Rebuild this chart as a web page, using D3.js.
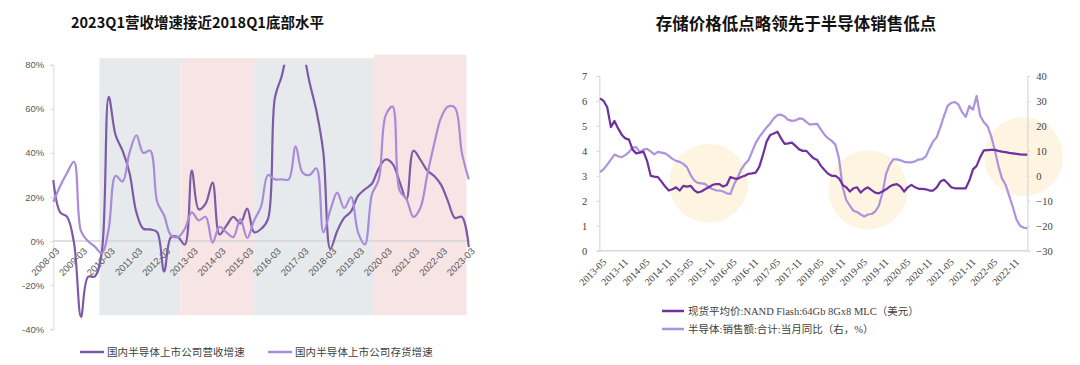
<!DOCTYPE html>
<html><head><meta charset="utf-8">
<script src="https://cdn.jsdelivr.net/npm/d3@7"></script>
<style>body{margin:0;background:#fff;} svg{display:block;}</style>
</head><body>
<svg id="chart" width="1080" height="365"></svg>
<script>
// ================= DATA: left chart (quarterly, %) =================
const leftQuarters = [
 "2008-03","2008-06","2008-09","2008-12","2009-03","2009-06","2009-09","2009-12",
 "2010-03","2010-06","2010-09","2010-12","2011-03","2011-06","2011-09","2011-12",
 "2012-03","2012-06","2012-09","2012-12","2013-03","2013-06","2013-09","2013-12",
 "2014-03","2014-06","2014-09","2014-12","2015-03","2015-06","2015-09","2015-12",
 "2016-03","2016-06","2016-09","2016-12","2017-03","2017-06","2017-09","2017-12",
 "2018-03","2018-06","2018-09","2018-12","2019-03","2019-06","2019-09","2019-12",
 "2020-03","2020-06","2020-09","2020-12","2021-03","2021-06","2021-09","2021-12",
 "2022-03","2022-06","2022-09","2022-12","2023-03"];
const revenueGrowth = [27.6,13,11,-1,-34.4,-16.3,-16,-5,65.4,48,
 41,31,13,5.6,5.3,4,-13.8,1.8,1.8,-1.6,
 32,14.4,17,26.5,3,7,11,8,14.7,4,
 5.5,10,65,75,90,100,88,72,59,40,
 -3.5,4.6,10.5,13.5,20.5,23.5,26,33,37,35,
 27,19,41,37,32,29.5,25.5,18,10.5,11,-2.7];
const inventoryGrowth = [17.8,25,31,36,4.5,0,-2.5,-5.5,5.5,29.6,
 27,40,48,40,41,17.8,11.6,2.6,1.8,5.6,
 13,9.4,11,-0.7,6.4,4,1.8,10,1.4,9.4,
 15.6,30,28,28,28,43,31,30,33,4,
 14,22,15,20,4,-1.5,21,28,57,61,
 23,19,11,15,30,44,56,61,60.5,40,28];
const leftTickLabels = ["2008-03","2009-03","2010-03","2011-03","2012-03","2013-03","2014-03",
 "2015-03","2016-03","2017-03","2018-03","2019-03","2020-03","2021-03","2022-03","2023-03"];
const leftYTicks = [-40,-20,0,20,40,60,80];
const bandStarts = ["2009-11","2012-10","2015-06","2019-10"];
const bandEnds   = ["2012-10","2015-06","2019-10","2023-02"];
const bandKinds  = ["down","up","down","up"];
const leftSeriesNames = ["国内半导体上市公司营收增速","国内半导体上市公司存货增速"];

// ================= DATA: right chart (monthly) =================
const rightStart = "2013-05", rightCount = 119;
const nandPrice = [6.1,6.0,5.75,4.95,5.2,4.9,4.65,4.5,4.45,4.05,
 3.9,3.93,3.97,3.6,3.0,2.97,2.95,2.77,2.57,2.41,
 2.46,2.54,2.41,2.6,2.57,2.6,2.43,2.33,2.37,2.46,
 2.54,2.63,2.67,2.67,2.57,2.63,2.95,2.9,2.88,2.95,
 3.0,3.08,3.1,3.13,3.37,3.84,4.37,4.64,4.7,4.77,
 4.5,4.28,4.3,4.33,4.2,4.06,4.0,4.0,3.84,3.7,
 3.63,3.4,3.23,3.08,3.0,3.0,2.9,2.64,2.54,2.37,
 2.5,2.54,2.33,2.46,2.54,2.43,2.33,2.3,2.37,2.46,
 2.57,2.64,2.67,2.57,2.37,2.54,2.64,2.54,2.48,2.48,
 2.46,2.41,2.41,2.54,2.77,2.84,2.7,2.54,2.5,2.5,
 2.5,2.5,2.81,3.26,3.4,3.75,4.02,4.03,4.04,4.04,
 4.0,3.97,3.95,3.92,3.9,3.88,3.86,3.85,3.85];
const semiSalesYoY = [1.5,2.7,4.5,6.5,8.5,7.8,7.5,8.3,9.5,11.3,
 11.5,9.5,10.5,10.8,9.8,8.6,9.6,9.3,9.0,8.0,
 6.8,6.0,5.6,4.8,3.5,0.4,-1.8,-2.8,-3,-3.2,
 -4.5,-5.3,-5.8,-5.9,-6.3,-7.0,-7.3,-3.5,-0.7,2.6,
 4.7,6.2,9.7,13.2,15.6,17.5,19.4,21.0,23.0,24.3,
 24.5,23.8,22.4,22.0,22.2,23.0,22.8,21.5,20.5,20.7,
 20.8,18.5,16.5,15,14,12.5,7,-4.5,-9.7,-12,
 -14,-14.5,-15.5,-16.3,-15.5,-15.3,-14.3,-12,-7,0.8,
 4.5,6.6,6.6,6.2,5.6,5.4,5.4,5.8,6.5,6.7,
 7.8,11,13.8,15.5,19.5,24,28,29.2,29.6,28.5,
 25.5,23.6,28,26.5,32,24,21.5,20,16,10.5,
 4,-1,-3.5,-8,-12.5,-17.5,-20,-20.8,-21];
const rightTickLabels = ["2013-05","2013-11","2014-05","2014-11","2015-05","2015-11","2016-05",
 "2016-11","2017-05","2017-11","2018-05","2018-11","2019-05","2019-11","2020-05","2020-11",
 "2021-05","2021-11","2022-05","2022-11"];
const rightLeftTicks = [0,1,2,3,4,5,6,7];
const rightRightTicks = [-30,-20,-10,0,10,20,30,40];
const lowPointMonths = ["2015-11","2019-07","2023-02"];
const lowPointLevels = [2.7,2.43,3.77];
const rightSeriesNames = ["现货平均价:NAND Flash:64Gb 8Gx8 MLC（美元）","半导体:销售额:合计:当月同比（右，%）"];

// ================= helpers =================
const tm = s => { const [y,m] = s.split("-").map(Number); return y*12 + m; };
const fmtM = v => { const y = Math.floor((v-1)/12), m = v - y*12; return y + "-" + String(m).padStart(2,"0"); };
const rightMonths = d3.range(rightCount).map(i => fmtM(tm(rightStart) + i));

const svg = d3.select("#chart");
const sans = "'Liberation Sans', Arial, 'Noto Sans CJK SC', sans-serif";
const serif = "'Liberation Serif', 'Times New Roman', 'Noto Sans CJK SC', serif";
const cjk = "'Noto Sans CJK SC', sans-serif";
const axisCol = "#d9d9d9", labCol = "#595959";

// ================= LEFT CHART =================
const L = svg.append("g");
const xL = d3.scaleLinear().domain([tm(leftQuarters[0]), tm(leftQuarters[leftQuarters.length-1])]).range([53.3, 468.8]);
const yL = d3.scaleLinear().domain([-40, 80]).range([329.3, 64.7]);

L.append("text").attr("x", 71).attr("y", 28).attr("font-family", cjk).attr("font-weight", 700)
 .attr("font-size", 14.5).attr("fill", "#111").text("2023Q1营收增速接近2018Q1底部水平");

// bands
bandStarts.forEach((s, i) => {
  const top = i === bandStarts.length-1 ? 84.5 : 83;
  L.append("rect").attr("x", xL(tm(s))).attr("width", xL(tm(bandEnds[i])) - xL(tm(s)))
   .attr("y", yL(top)).attr("height", yL(-33.6) - yL(top))
   .attr("fill", bandKinds[i] === "down" ? "#e7eaed" : "#f7e4e4");
});

// y axis
const ayL = L.append("g").attr("transform", `translate(${xL.range()[0]},0)`)
  .call(d3.axisLeft(yL).tickValues(leftYTicks).tickFormat(d => d + "%").tickSize(3).tickPadding(6));
ayL.select(".domain").attr("stroke", axisCol);
ayL.selectAll(".tick line").attr("stroke", axisCol);
ayL.selectAll(".tick text").attr("font-family", sans).attr("font-size", 9.5).attr("fill", labCol);

// zero line
L.append("line").attr("x1", xL.range()[0]).attr("x2", xL.range()[1] + 1).attr("y1", yL(0)).attr("y2", yL(0))
 .attr("stroke", "#d4d4d4").attr("stroke-width", 1.5);

// x labels
L.selectAll("text.xl").data(leftTickLabels).join("text").attr("class", "xl")
 .attr("transform", d => `translate(${xL(tm(d)) + 2},${yL(0) + 6}) rotate(-45)`)
 .attr("text-anchor", "end").attr("dy", "0.7em").attr("font-family", sans).attr("font-size", 9.5)
 .attr("fill", labCol).text(d => d);

// clip
svg.append("clipPath").attr("id", "clipL").append("rect")
 .attr("x", 40).attr("y", yL(80)).attr("width", 440).attr("height", yL(-40) - yL(80));

const lineL = d3.line().x(d => xL(tm(d[0]))).y(d => yL(d[1])).curve(d3.curveCatmullRom.alpha(0.5));
const leftColors = ["#7d5ba6", "#a98bd9"];
[revenueGrowth, inventoryGrowth].forEach((arr, k) => {
  L.append("path").attr("clip-path", "url(#clipL)")
   .attr("d", lineL(leftQuarters.map((q, i) => [q, arr[i]])))
   .attr("fill", "none").attr("stroke", leftColors[k]).attr("stroke-width", 2.2);
});

// legend left
const legLX = [80, 268];
leftSeriesNames.forEach((n, k) => {
  L.append("line").attr("x1", legLX[k]).attr("x2", legLX[k] + 24).attr("y1", 352).attr("y2", 352)
   .attr("stroke", leftColors[k]).attr("stroke-width", 2.5);
  L.append("text").attr("x", legLX[k] + 27).attr("y", 356).attr("font-family", cjk).attr("font-size", 10.5)
   .attr("letter-spacing", 0.1).attr("fill", "#404040").text(n);
});

// ================= RIGHT CHART =================
const R = svg.append("g");
const xR = d3.scaleLinear().domain([tm(rightStart), tm(rightMonths[rightCount-1])]).range([600, 1027.3]);
const yRL = d3.scaleLinear().domain([0, 7]).range([250.7, 76]);
const yRR = d3.scaleLinear().domain([-30, 40]).range([250.7, 76]);

R.append("text").attr("x", 796).attr("y", 30).attr("text-anchor", "middle").attr("font-family", cjk)
 .attr("font-weight", 700).attr("font-size", 16.5).attr("fill", "#111").text("存储价格低点略领先于半导体销售低点");

// highlight circles
lowPointMonths.forEach((m, i) => {
  R.append("circle").attr("cx", xR(tm(m))).attr("cy", yRL(lowPointLevels[i])).attr("r", 39.5).attr("fill", "#fef4e2");
});

// axes
const aRL = R.append("g").attr("transform", `translate(${xR.range()[0] - 0.7},0)`)
 .call(d3.axisLeft(yRL).tickValues(rightLeftTicks).tickFormat(d3.format("d")).tickSize(3).tickPadding(9));
const aRR = R.append("g").attr("transform", `translate(${xR.range()[1]},0)`)
 .call(d3.axisRight(yRR).tickValues(rightRightTicks).tickFormat(d3.format("d")).tickSize(3).tickPadding(6));
[aRL, aRR].forEach(a => {
  a.select(".domain").attr("stroke", axisCol).attr("stroke-width", 1.2);
  a.selectAll(".tick line").attr("stroke", axisCol);
  a.selectAll(".tick text").attr("font-family", serif).attr("font-size", 10.5).attr("fill", "#404040");
});
R.append("line").attr("x1", xR.range()[0] - 0.7).attr("x2", xR.range()[1]).attr("y1", yRL(0)).attr("y2", yRL(0))
 .attr("stroke", axisCol).attr("stroke-width", 1.5);

R.selectAll("text.xr").data(rightTickLabels).join("text").attr("class", "xr")
 .attr("transform", d => `translate(${xR(tm(d)) + 2},${yRL(0) + 7}) rotate(-45)`)
 .attr("text-anchor", "end").attr("dy", "0.7em").attr("font-family", serif).attr("font-size", 10)
 .attr("fill", "#404040").text(d => d);

const rightColors = ["#7030a0", "#ad93dc"];
const lineRL = d3.line().x(d => xR(tm(d[0]))).y(d => yRL(d[1]));
const lineRR = d3.line().x(d => xR(tm(d[0]))).y(d => yRR(d[1]));
R.append("path").attr("d", lineRR(rightMonths.map((m, i) => [m, semiSalesYoY[i]])))
 .attr("fill", "none").attr("stroke", rightColors[1]).attr("stroke-width", 2.2).attr("stroke-linejoin", "round");
R.append("path").attr("d", lineRL(rightMonths.map((m, i) => [m, nandPrice[i]])))
 .attr("fill", "none").attr("stroke", rightColors[0]).attr("stroke-width", 2.2).attr("stroke-linejoin", "round");

// legend right
const legRY = [311, 329];
rightSeriesNames.forEach((n, k) => {
  R.append("line").attr("x1", 662).attr("x2", 684).attr("y1", legRY[k]).attr("y2", legRY[k])
   .attr("stroke", rightColors[k]).attr("stroke-width", 2.5);
  R.append("text").attr("x", 688).attr("y", legRY[k] + 4).attr("font-family", serif).attr("font-size", 10.5)
   .attr("fill", "#404040").text(n);
});
</script>
</body></html>
